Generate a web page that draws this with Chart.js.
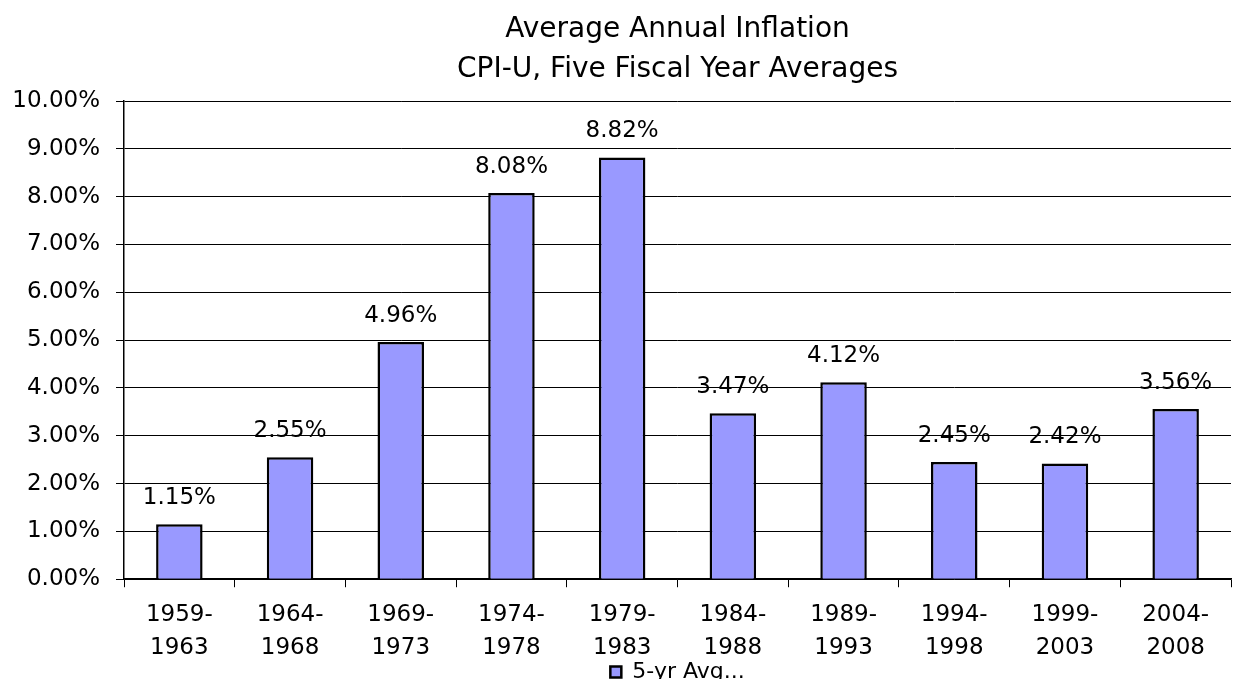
<!DOCTYPE html>
<html>
<head>
<meta charset="utf-8">
<script src="https://cdn.jsdelivr.net/npm/chart.js@4.4.1/dist/chart.umd.min.js"></script>
<style>
  html, body { margin: 0; padding: 0; background: #fff; overflow: hidden; }
  #wrap { width: 1234px; height: 707px; }
</style>
</head>
<body>
<div id="wrap"><canvas id="inflationChart" width="1234" height="707"></canvas></div>
<script>
const periods = [
    ['1959-', '1963'], ['1964-', '1968'], ['1969-', '1973'], ['1974-', '1978'], ['1979-', '1983'],
    ['1984-', '1988'], ['1989-', '1993'], ['1994-', '1998'], ['1999-', '2003'], ['2004-', '2008']
];
const avgInflation = [1.15, 2.55, 4.96, 8.08, 8.82, 3.47, 4.12, 2.45, 2.42, 3.56];
const seriesName = '5-yr Avg...';
const titleLines = ['Average Annual Inflation', 'CPI-U, Five Fiscal Year Averages'];

const fontFamily = '"DejaVu Sans", "Liberation Sans", Arial, sans-serif';

// draws the value above each bar
const barValueLabels = {
    id: 'barValueLabels',
    afterDatasetsDraw(chart) {
        const ctx = chart.ctx;
        const meta = chart.getDatasetMeta(0);
        ctx.save();
        ctx.font = '23px ' + fontFamily;
        ctx.fillStyle = '#000';
        ctx.textAlign = 'center';
        ctx.textBaseline = 'middle';
        meta.data.forEach(function (bar, i) {
            ctx.fillText(avgInflation[i].toFixed(2) + '%', bar.x, bar.y - 26);
        });
        ctx.restore();
    }
};

// the legend sits tight under the category labels, as in the original
const legendNudge = {
    id: 'legendNudge',
    afterLayout(chart) {
        if (chart.legend) {
            chart.legend.top -= 14;
            chart.legend.bottom -= 14;
        }
    }
};

const ctx = document.getElementById('inflationChart').getContext('2d');
const inflationChart = new Chart(ctx, {
    type: 'bar',
    data: {
        labels: periods,
        datasets: [{
            label: seriesName,
            data: avgInflation,
            backgroundColor: '#9999FF',
            borderColor: '#000',
            borderWidth: 2.5,
            barPercentage: 0.42,
            categoryPercentage: 1.0
        }]
    },
    options: {
        responsive: false,
        animation: false,
        layout: {
            padding: { left: 0, right: 3, top: 0, bottom: 0 }
        },
        plugins: {
            title: {
                display: true,
                text: titleLines,
                color: '#000',
                fullSize: false,
                font: { family: fontFamily, size: 28, weight: 'normal', lineHeight: 1.43 },
                padding: { top: 10, bottom: 11 }
            },
            legend: {
                display: true,
                position: 'bottom',
                fullSize: false,
                labels: {
                    color: '#000',
                    boxWidth: 11,
                    boxHeight: 11,
                    padding: 0,
                    font: { family: fontFamily, size: 22 }
                }
            },
            tooltip: { enabled: false }
        },
        scales: {
            x: {
                offset: true,
                grid: {
                    offset: true,
                    drawOnChartArea: false,
                    drawTicks: true,
                    tickLength: 8,
                    color: '#000'
                },
                border: { color: '#000', width: 1.5 },
                ticks: {
                    color: '#000',
                    padding: 11,
                    maxRotation: 0,
                    font: { family: fontFamily, size: 23, lineHeight: 1.43 }
                }
            },
            y: {
                min: 0,
                max: 10,
                afterFit: function (scale) { scale.width = 124; },
                grid: {
                    color: '#000',
                    lineWidth: 1,
                    tickLength: 8
                },
                border: { color: '#000', width: 1.5 },
                ticks: {
                    stepSize: 1,
                    color: '#000',
                    padding: 16,
                    font: { family: fontFamily, size: 23 },
                    callback: function (value) {
                        return value.toFixed(2) + '%';
                    }
                }
            }
        }
    },
    plugins: [barValueLabels, legendNudge]
});
</script>
</body>
</html>
